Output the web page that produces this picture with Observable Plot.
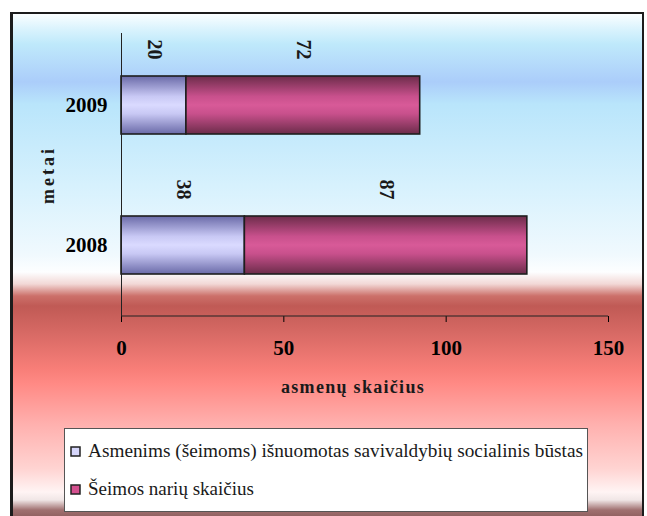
<!DOCTYPE html>
<html><head><meta charset="utf-8">
<script src="https://cdn.jsdelivr.net/npm/d3@7"></script>
<script src="https://cdn.jsdelivr.net/npm/@observablehq/plot@0.6"></script>
<style>
body{margin:0;width:647px;height:516px;overflow:hidden;position:relative;background:#fff;}
#box{position:absolute;left:10px;top:12px;width:629px;height:512px;border:2px solid #1c1c1c;border-left-width:3px;
background:linear-gradient(to bottom,#fafeff 0px,#daf3fd 15px,#bfe9fb 30px,#abcdfa 68px,#b9e5fb 90px,#d6f1fd 170px,#f0f9fe 240px,#fdfeff 258px,#f2d8d6 270px,#cc706a 282px,#c05a55 292px,#d86a65 320px,#f87e78 355px,#ff8a85 370px,#ffb0ae 410px,#ffd4d2 455px,#fff4f4 478px,#f0e6e6 486px,#a07070 496px,#805050 510px);}
#chart{position:absolute;left:0;top:0;}
#legend{position:absolute;left:64px;top:428px;width:522px;height:82px;background:#fff;border:1px solid #555;}
</style></head><body>
<div id="box"></div><div id="chart"></div><div id="legend"></div>
<script>
const years = ["2009", "2008"];
const series = ["Asmenims (šeimoms) išnuomotas savivaldybių socialinis būstas", "Šeimos narių skaičius"];
const rented = [20, 38];
const members = [72, 87];
const xTicks = [0, 50, 100, 150];
const xTitle = ["asmenų skaičius"];
const yTitle = ["metai"];
const swatchColors = ["#d6d6fb", "#d4508f"];
const gradIds = ["gA", "gB"];

const rows = years.flatMap((y, i) => [
  {year: y, series: series[0], value: rented[i]},
  {year: y, series: series[1], value: members[i]}
]);

const plot = Plot.plot({
  width: 647, height: 410,
  marginLeft: 121, marginRight: 39, marginTop: 33, marginBottom: 94,
  style: {background: "transparent", fontFamily: "Liberation Serif", fontSize: "21px", fontWeight: "bold"},
  x: {domain: [0, 150], ticks: xTicks, tickSize: 6, tickPadding: 18, label: null},
  y: {domain: years, paddingInner: 0.587, paddingOuter: 0.3, tickSize: 0, tickPadding: 14, label: null},
  color: {domain: series, range: gradIds.map(d => `url(#${d})`)},
  marks: [
    Plot.barX(rows, {x: "value", y: "year", fill: "series", stroke: "#1e1e1e", strokeWidth: 1.6}),
    Plot.text(rows, Plot.stackX({x: "value", y: "year", text: "value", rotate: 90, dy: -56, fontSize: 20, fill: "#1a1a1a"})),
    Plot.ruleX([0], {stroke: "#222", strokeWidth: 1}),
    Plot.text(xTitle, {frameAnchor: "bottom", lineAnchor: "middle", textAnchor: "middle", dy: 71, dx: -12, fontSize: 18, fill: "#1a1a1a"}),
    Plot.text(yTitle, {frameAnchor: "left", textAnchor: "middle", lineAnchor: "middle", dx: -73, rotate: -90, fontSize: 18, fill: "#1a1a1a"})
  ]
});
document.getElementById("chart").appendChild(plot);

const svg = d3.select(plot);
const defs = svg.insert("defs", ":first-child");
const gradStops = [
  [["0", "#6a6aa8"], ["0.35", "#c8c8f4"], ["0.5", "#dadaff"], ["0.65", "#c8c8f4"], ["1", "#6a6aa8"]],
  [["0", "#6c2c4a"], ["0.35", "#c8508c"], ["0.5", "#d85a98"], ["0.65", "#c8508c"], ["1", "#6c2c4a"]]
];
gradIds.forEach((id, k) => {
  const g = defs.append("linearGradient").attr("id", id).attr("x1", 0).attr("y1", 0).attr("x2", 0).attr("y2", 1);
  gradStops[k].forEach(([o, c]) => g.append("stop").attr("offset", o).attr("stop-color", c));
});
const xs = plot.scale("x"), ys = plot.scale("y");
svg.append("line").attr("x1", xs.range[0]).attr("x2", xs.range[1])
  .attr("y1", ys.range[1]).attr("y2", ys.range[1]).attr("stroke", "#222").attr("stroke-width", 1);
svg.selectAll("text").filter(function(){ return this.textContent === xTitle[0]; }).attr("letter-spacing", 1.3);
svg.selectAll("text").filter(function(){ return this.textContent === yTitle[0]; }).attr("letter-spacing", 3);

// legend
const lg = d3.select("#legend").append("svg").attr("width", 522).attr("height", 82);
const lens = [495, 166];
const baselines = [28, 66];
series.forEach((s, i) => {
  lg.append("rect").attr("x", 6).attr("y", baselines[i] - 10).attr("width", 9).attr("height", 9)
    .attr("fill", swatchColors[i]).attr("stroke", "#222").attr("stroke-width", 1.5);
  lg.append("text").attr("x", 23).attr("y", baselines[i]).attr("font-family", "Liberation Serif")
    .attr("font-size", 19).attr("fill", "#1a1a1a").attr("textLength", lens[i]).attr("lengthAdjust", "spacingAndGlyphs").text(s);
});
</script>
</body></html>
